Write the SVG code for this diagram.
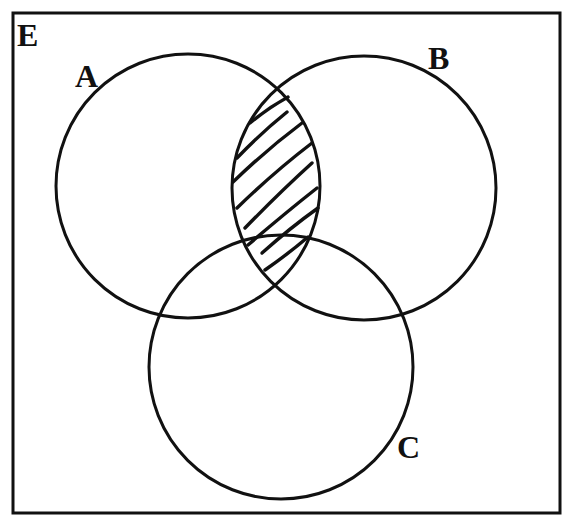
<svg xmlns="http://www.w3.org/2000/svg" width="570" height="521" viewBox="0 0 570 521">
<style>
.c{fill:none;stroke:#111;stroke-width:3}
.h{fill:none;stroke:#111;stroke-width:3.4;stroke-linecap:round}
.t{font-family:"Liberation Serif",serif;font-weight:bold;font-size:32px;fill:#111}
</style>
<rect x="0" y="0" width="570" height="521" fill="#fff"/>
<g id="universe">
<rect x="13" y="13" width="547" height="500" class="c"/>
<text class="t" x="17" y="46">E</text>
</g>
<g id="hatch">
<path class="h" d="M250,123 Q268,108 288,97"/>
<path class="h" d="M237,158 Q262,132 287,112"/>
<path class="h" d="M233,182 Q266,150 302,123"/>
<path class="h" d="M237,208 Q274,172 312,143"/>
<path class="h" d="M245,228 Q280,192 312,163"/>
<path class="h" d="M248,245 Q284,214 317,188"/>
<path class="h" d="M262,253 Q290,228 318,208"/>
<path class="h" d="M265,270 Q288,254 308,237"/>
</g>
<g id="A">
<circle class="c" cx="188" cy="186" r="132"/>
<text class="t" x="75" y="87">A</text>
</g>
<g id="B">
<circle class="c" cx="364" cy="188" r="132"/>
<text class="t" x="428" y="69">B</text>
</g>
<g id="C">
<circle class="c" cx="281" cy="367" r="132"/>
<text class="t" x="397" y="458">C</text>
</g>
</svg>
